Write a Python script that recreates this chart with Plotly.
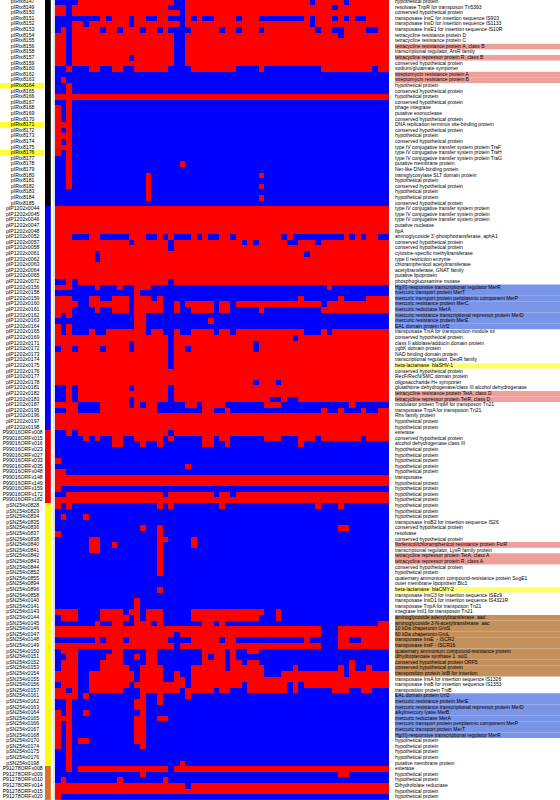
import plotly.graph_objects as go

gene_ids = (
    ["pIRtx8147","pIRtx8149","pIRtx8150","pIRtx8151","pIRtx8152","pIRtx8153","pIRtx8154","pIRtx8155","pIRtx8156","pIRtx8158",
     "pIRtx8157","pIRtx8159","pIRtx8160","pIRtx8162","pIRtx8163","pIRtx8164","pIRtx8165","pIRtx8166","pIRtx8167","pIRtx8168",
     "pIRtx8169","pIRtx8170","pIRtx8171","pIRtx8172","pIRtx8173","pIRtx8174","pIRtx8175","pIRtx8176","pIRtx8177","pIRtx8178",
     "pIRtx8179","pIRtx8180","pIRtx8181","pIRtx8182","pIRtx8183","pIRtx8184","pIRtx8185"]
    + ["pIP1202x0044","pIP1202x0045","pIP1202x0046","pIP1202x0047","pIP1202x0048","pIP1202x0052","pIP1202x0057","pIP1202x0058",
       "pIP1202x0061","pIP1202x0062","pIP1202x0063","pIP1202x0064","pIP1202x0065","pIP1202x0072","pIP1202x0156","pIP1202x0158",
       "pIP1202x0159","pIP1202x0160","pIP1202x0161","pIP1202x0162","pIP1202x0163","pIP1202x0164","pIP1202x0165","pIP1202x0169",
       "pIP1202x0171","pIP1202x0172","pIP1202x0173","pIP1202x0174","pIP1202x0175","pIP1202x0176","pIP1202x0177","pIP1202x0178",
       "pIP1202x0181","pIP1202x0182","pIP1202x0183","pIP1202x0187","pIP1202x0195","pIP1202x0196","pIP1202x0197","pIP1202x0198"]
    + ["P99016ORFx008","P99016ORFx015","P99016ORFx016","P99016ORFx023","P99016ORFx027","P99016ORFx033","P99016ORFx035",
       "P99016ORFx048","P99016ORFx148","P99016ORFx149","P99016ORFx159","P99016ORFx172","P99016ORFx182"]
    + ["pSN254x0828","pSN254x0829","pSN254x0834","pSN254x0835","pSN254x0836","pSN254x0837","pSN254x0838","pSN254x0840",
       "pSN254x0841","pSN254x0842","pSN254x0843","pSN254x0844","pSN254x0852","pSN254x0855","pSN254x0894","pSN254x0896",
       "pSN254x0858","pSN254x0140","pSN254x0141","pSN254x0143","pSN254x0144","pSN254x0145","pSN254x0146","pSN254x0147",
       "pSN254x0148","pSN254x0149","pSN254x0150","pSN254x0151","pSN254x0152","pSN254x0153","pSN254x0154","pSN254x0155",
       "pSN254x0156","pSN254x0157","pSN254x0161","pSN254x0162","pSN254x0163","pSN254x0164","pSN254x0165","pSN254x0166",
       "pSN254x0167","pSN254x0168","pSN254x0170","pSN254x0174","pSN254x0175","pSN254x0176","pSN254x0198"]
    + ["P91278ORFx008","P91278ORFx009","P91278ORFx010","P91278ORFx014","P91278ORFx015","P91278ORFx020"]
)

HP = "hypothetical protein"
CHP = "conserved hypothetical protein"
T4 = "type IV conjugative transfer system protein"

gene_names = [
    HP, "resolvase TnpR for transposon Tn5393", CHP, "transposase InsC for insertion sequence IS903",
    "transposase InsD for insertion sequence IS1133", "transposase InsE1 for insertion sequence IS10R",
    "tetracycline resistance protein D", "tetracycline resistance protein C",
    "tetracycline resistance protein A, class B", "transcriptional regulator, ArsR family",
    "tetracycline repressor protein R, class B", CHP, "sodium/glutamate symporter",
    "streptomycin resistance protein A", "streptomycin resistance protein B", HP, CHP, HP, CHP, "phage integrase",
    "putative exonuclease", CHP, "DNA replication terminus site-binding protein", CHP, HP, CHP,
    T4 + " TraF", T4 + " TraH", T4 + " TraG", "putative membrane protein", "Ner-like DNA-binding protein",
    "transglycosylase SLT domain protein", HP, CHP, HP, HP, CHP,
    T4, T4, T4, "putative nuclease", "fipA", "aminoglycoside 3'-phosphotransferase, aphA1", CHP, CHP,
    "cytosine-specific methyltransferase", "type II restriction enzyme", "chloramphenicol acetyltransferase",
    "acetyltransferase, GNAT family", "putative lipoprotein", "phosphoglucosamine mutase",
    "Hg(II)-responsive transcriptional regulator MerR", "mercuric transport protein MerT",
    "mercuric transport protein periplasmic component MerP", "mercuric resistance protein MerC",
    "mercuric reductase MerA", "mercuric resistance transcriptional repressor protein MerD",
    "mercuric resistance protein MerE", "EAL domain protein Urf2", "transposase TniA for transposition module tni", CHP,
    "class II aldolase/adducin domain protein", "ygbK domain protein", "NAD binding domain protein",
    "transcriptional regulator, DeoR family", "beta-lactamase  blaSHV-1", CHP, "RecF/RecN/SMC domain protein",
    "oligosaccharide:H+ symporter", "glutathione dehydrogenase/class III alcohol dehydrogenase",
    "tetracycline resistance protein TetA, class D", "tetracycline repressor protein TetR, class D",
    "modulator protein TnpM for transposon Tn21", "transposase TnpA for transposon Tn21", "Rhs family protein", HP, HP,
    "esterase", CHP, "alcohol dehydrogenase class III", HP, HP, HP, HP, HP, "transposase", HP, HP, HP, HP, HP, HP, HP,
    "transposase InsB2 for insertion sequence IS26", CHP, "resolvase", CHP,
    "florfenicol/chloramphenicol resistance protein FloR", "transcriptional regulator, LysR family protein",
    "tetracycline repressor protein TetA, class A", "tetracycline repressor protein R, class A", CHP, HP,
    "quaternary ammonium compound-resistance protein SugE1", "outer membrane lipoprotein Blc1", "beta-lactamase  blaCMY-2",
    "transposase InsC3 for insertion sequence ISEc9", "transposase InsD1 for insertion sequence IS4321R",
    "transposase TnpA for transposon Tn21", "integrase IntI1 for transposon Tn21",
    "aminoglycoside adenylyltransferase  aad", "aminoglycoside 3-N-acetyltransferase  aac", "10 kDa chaperonin GroS",
    "60 kDa chaperonin GroL", "transposase InsE  - ISCR2", "transposase InsF - ISCR16",
    "quaternary ammonium compound-resistance protein", "dihydropteroate synthase 1  sul1",
    "conserved hypothetical protein ORF5", CHP, "transposition protein IstB for insertion",
    "transposase InsA for insertion sequence IS1326", "transposase InsB for insertion sequence IS1353",
    "transposition protein TniB", "EAL domain protein Urf2", "mercuric resistance protein MerE",
    "mercuric resistance transcriptional repressor protein MerD", "alkylmercury lyase MerB", "mercuric reductase MerA",
    "mercuric transport protein periplasmic component MerP", "mercuric transport protein MerT",
    "Hg(II)-responsive transcriptional regulator MerR", HP, HP, HP, HP, "putative membrane protein", "esterase", HP, HP,
    "Dihydrofolate reductase", HP, HP,
]

# Each row: present (R) or absent (B) across most strains, then the strains that differ.
row_states = [
    ("R","0-3 21-22 45 51"),("R","2 20-22 49"),("R","2 22"),
    ("R","0-7 9 13 16-17 20-22 24 26-27 32 36-43 45 49 51 53-54"),("R","0-2 5 13 22 45"),
    ("R","0 2 8 11 15 18 20-23 29 32 36 46 49-50 55-56"),("R","2 21-22 50"),("R","2 21-22"),("R","2 21-22"),("R","2 21-22"),
    ("R","2 13 21-22"),("R","2 21-22"),("R","0-1 3-5 8-9 12-13 20-23 32-35 37-46 56"),("B",""),("B","1"),("B","2"),("B","2"),
    ("R",""),("B","2"),("B","0 2"),("B","0 2"),("B","0 2"),("B","0-2"),("B","0 2"),("B","0-2"),("B","0 2"),("B","0-2"),
    ("B","0 2"),("B","2"),("B","2 22"),("B","2"),("B","2 16 36"),("B","2 16"),("B","2 16 36"),("B","16"),("B","16 36"),("B",""),
    ("R",""),("R",""),("R",""),("R",""),("R",""),
    ("R","3-5 8-12 16-17 19 21-23 25 27-28 31 40 42-50 52 54 57-58"),("R","13 20 33 35 41-42 46"),("R","20"),("R","7 44"),("R","7"),
    ("R",""),("R",""),("R",""),("R","0-1 3 20"),("R","3-6 8-10 12-13 17-47 49-58"),("B","14"),
    ("R","3-5 8-9 13 17 19-42 44-49 51-54"),("R","4-5 13 19-20 22 28 31 47"),("R","3-6 8-9 13 19-20 22-23 28 31-35 37-46"),
    ("B","0 2 14-15"),("B","14-15 27"),("B","0 2 14-15"),("R","1 3-5 7-8 16 19-20 22-23 28 31 44-46 48"),
    ("R","20 42"),("R","13 20 35"),("R","0 3 8 13 20 23 35"),("R","20"),("R","20"),("R","20"),("R",""),("R",""),("R","35 39"),
    ("R","0-1 3 13 20"),("R","0-1 3 20"),("R","0-1 3 13 20 38-39 41-42"),("R","4-7 13 15 18-22 25 30-36 40-51 53-58"),
    ("R","0-1 4-7 18-25 28-29 31-46 48-49 51-53 55-56"),("R",""),("R",""),("R",""),
    ("R","0-1 3 20"),("R","0-4 6 8-9 12-13 19 21-25 28 31-36 40-42 46 54"),("B","10-11 15 18 26-27 30 43"),("B",""),("B",""),
    ("B","0"),("B","23"),("B","0-1"),("R",""),("R",""),("B","0"),("R","0-1 19 28 31"),("R",""),
    ("B","0 2 18 20 29 46 50"),("B",""),("B","1 5"),("B",""),("B","15 18 50-51"),("B","0 18"),("B","6-7 18-19 24"),
    ("B","6-7 10 18 24"),("B","6-7 18"),("B","18"),("B","18"),("B","18"),("B","18"),("B",""),("B",""),("B","18"),("B",""),
    ("B","14"),("B","14"),("B","0-3 8-11 13-14 16-18 24-36 39"),("B","1-3 8-12 14 16-18 24-35 39"),
    ("B","7 10-11 14-16 18 26-27 29 57-58"),("R","47-49"),("R","21 47-49"),("R","0-6 8 12 20-23 29 32-43 45-49 52-53"),
    ("R","21 47-49"),("B","1-3 10-11 16-17 26-29 31 34-35"),("B","2-3 9-11 14 16-17 26 28-29 31"),
    ("B","1-3 8-11 16-17 26-29 31-32 34-35 52"),("B","1-3 8-12 15-18 24-29 31-36 42 50 52 55"),
    ("R","4-5 14 19-20 22-23 37-39 51"),("R","4-5 14 19-20 23"),("R","0 4-5 13 23 33 41 43"),
    ("R","2 4-5 12-14 22 28 31-33 41 43-48 52-53 56-58"),("B","0-3 5 15 18 23"),("B","2 14-15 18"),("B","2 14-15"),
    ("B","0 2 5 15"),("B","0-2 14-15 18-19"),("B","0 2 14-15"),("B","0 2 14-15"),("B","0 2 14-15"),("B","0 2 4-5 14-15"),
    ("B","0 2 15"),("B","2"),("B","2"),("B","2 22"),("R","0-1 3 20"),("B","15 50-51"),("B","1 11 19"),("R","23"),("R",""),("B","0"),
]

strain_count = 59
plasmid_groups = [(37, 0), (40, 1), (13, 2), (47, 3), (6, 4)]
plasmid_colors = ["#000000", "#0000FF", "#FF0000", "#FFFF00", "#E0701E"]

salmon_rows = [8, 10, 13, 14, 70, 71, 97, 99, 100]
blue_rows = list(range(51, 59)) + list(range(124, 132))
yellow_rows = [65, 105]
brown_rows = list(range(110, 121))
id_highlight_rows = [15, 22, 27]

W, H = 560, 800
n = len(gene_ids)
assert n == 143 and len(gene_names) == n and len(row_states) == n

def expand(state):
    base, flips = state
    on = base == "R"
    row = [1 if on else 0] * strain_count
    for part in flips.split():
        a, _, b = part.partition("-")
        for c in range(int(a), int(b or a) + 1):
            row[c] = 0 if on else 1
    return row

z = [expand(s) for s in row_states]
strip = []
for count, g in plasmid_groups:
    strip += [[g]] * count
rows = list(range(n))
y_range = [(H - 1.7) / 5.6, -1.7 / 5.6]

fig = go.Figure()
fig.add_trace(go.Heatmap(z=z, x=list(range(strain_count)), y=rows, xaxis="x", yaxis="y",
                         colorscale=[[0, "#0000FF"], [0.5, "#0000FF"], [0.5, "#FF0000"], [1, "#FF0000"]],
                         zmin=0, zmax=1, showscale=False, xgap=0, ygap=0))
steps = []
for i, c in enumerate(plasmid_colors):
    steps += [[i / 5, c], [(i + 1) / 5, c]]
fig.add_trace(go.Heatmap(z=strip, x=[0], y=rows, xaxis="x2", yaxis="y", colorscale=steps,
                         zmin=-0.5, zmax=4.5, showscale=False))
fig.add_trace(go.Scatter(x=[0.5] * n, y=rows, text=gene_ids, mode="text", xaxis="x3", yaxis="y",
                         textposition="middle center", cliponaxis=False,
                         textfont=dict(family="Liberation Sans", size=5.2, color="#000000"), showlegend=False))
fig.add_trace(go.Scatter(x=[0] * n, y=rows, text=gene_names, mode="text", xaxis="x4", yaxis="y",
                         textposition="middle right", cliponaxis=False,
                         textfont=dict(family="Liberation Sans", size=5, color="#000000"), showlegend=False))

shapes = []
def band(rows_, color, x0, x1):
    for r in rows_:
        shapes.append(dict(type="rect", xref="paper", yref="y", x0=x0 / W, x1=x1 / W, y0=r - 0.5, y1=r + 0.5,
                           fillcolor=color, line_width=0, layer="below"))
band(salmon_rows, "#F0A09A", 395, 560)
band(blue_rows, "#7A94E8", 395, 560)
band(yellow_rows, "#FFFF66", 395, 560)
band(brown_rows, "#C4915C", 395, 560)
band(id_highlight_rows, "#FFFF33", 0, 44.5)
shapes.append(dict(type="rect", xref="paper", yref="paper", x0=53 / W, x1=55 / W, y0=0, y1=1,
                   fillcolor="#E2E2E2", line_width=0, layer="below"))

hidden = dict(visible=False, showgrid=False, zeroline=False)
fig.update_layout(
    width=W, height=H, margin=dict(l=0, r=0, t=0, b=0), template="none", showlegend=False,
    paper_bgcolor="white", plot_bgcolor="rgba(0,0,0,0)", shapes=shapes, hovermode=False,
    xaxis=dict(domain=[55 / W, 389.3 / W], range=[-0.5, strain_count - 0.5], anchor="y", **hidden),
    xaxis2=dict(domain=[45 / W, 50.8 / W], range=[-0.5, 0.5], anchor="y", **hidden),
    xaxis3=dict(domain=[0, 45.4 / W], range=[0, 1], anchor="y", **hidden),
    xaxis4=dict(domain=[395 / W, 1], range=[0, 1], anchor="y", **hidden),
    yaxis=dict(domain=[0, 1], range=y_range, **hidden),
)
fig.write_html("out.html", config=dict(displayModeBar=False),
               post_script="document.body.style.margin='0';document.documentElement.style.overflow='hidden';")
